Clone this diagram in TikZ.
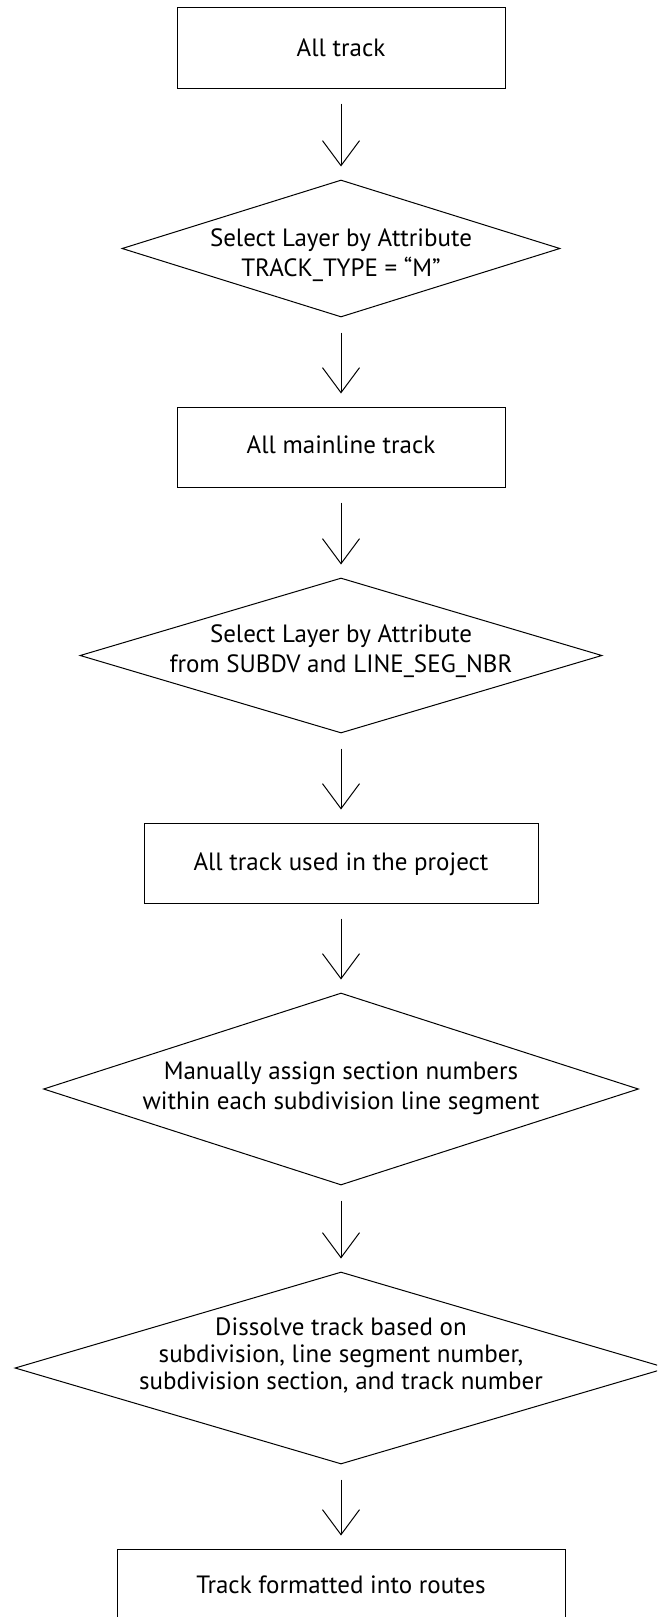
\documentclass[tikz,border=0pt]{standalone}
\usepackage{fontspec}
\setmainfont{PT Sans}
\usetikzlibrary{shapes.geometric,arrows.meta}
\begin{document}
\begin{tikzpicture}[x=1pt,y=-1pt,
  box/.style={draw, line width=1pt, rectangle, inner sep=0pt},
  dia/.style={draw, line width=1pt, diamond, inner sep=0pt},
  txt/.style={font=\fontsize{25}{30}\selectfont, align=center, inner sep=0pt},
  arr/.style={line width=1pt, -{Straight Barb[length=25pt,width=37pt]}, shorten <=15pt, shorten >=13pt}]
\useasboundingbox (0,0) rectangle (657,1617);
\clip (0,0) rectangle (657,1617);
% shapes
\node[box, minimum width=328pt, minimum height=81pt] (b1) at (341,47.5) {};
\node[dia, minimum width=438pt, minimum height=137pt] (d1) at (341,248.5) {};
\node[box, minimum width=328pt, minimum height=80pt] (b2) at (341,447) {};
\node[dia, minimum width=522pt, minimum height=155pt] (d2) at (341,655.5) {};
\node[box, minimum width=394pt, minimum height=80pt] (b3) at (341,863) {};
\node[dia, minimum width=595pt, minimum height=192pt] (d3) at (341,1089) {};
\node[dia, minimum width=652pt, minimum height=192pt] (d4) at (341,1368) {};
\node[box, minimum width=448pt, minimum height=80pt] (b4) at (341,1589) {};
% texts
\node[txt, anchor=base] (t1) at (341,56) {All track};
\node[txt] (t2) at (341,255.5) {Select Layer by Attribute\\TRACK\_TYPE = “M”};
\node[txt, anchor=base] (t3) at (341,453) {All mainline track};
\node[txt] (t4) at (341,651.5) {Select Layer by Attribute\\from SUBDV and LINE\_SEG\_NBR};
\node[txt, anchor=base] (t5) at (341,870) {All track used in the project};
\node[txt] (t6) at (341,1088.5) {Manually assign section numbers\\within each subdivision line segment};
\node[txt, font=\fontsize{25}{27}\selectfont] (t7) at (341,1355.5) {Dissolve track based on\\subdivision, line segment number,\\subdivision section, and track number};
\node[txt, anchor=base] (t8) at (341,1593) {Track formatted into routes};
% connectors
\draw[arr] (b1) -- (d1);
\draw[arr] (d1) -- (b2);
\draw[arr] (b2) -- (d2);
\draw[arr] (d2) -- (b3);
\draw[arr] (b3) -- (d3);
\draw[arr] (d3) -- (d4);
\draw[arr] (d4) -- (b4);
\end{tikzpicture}
\end{document}
